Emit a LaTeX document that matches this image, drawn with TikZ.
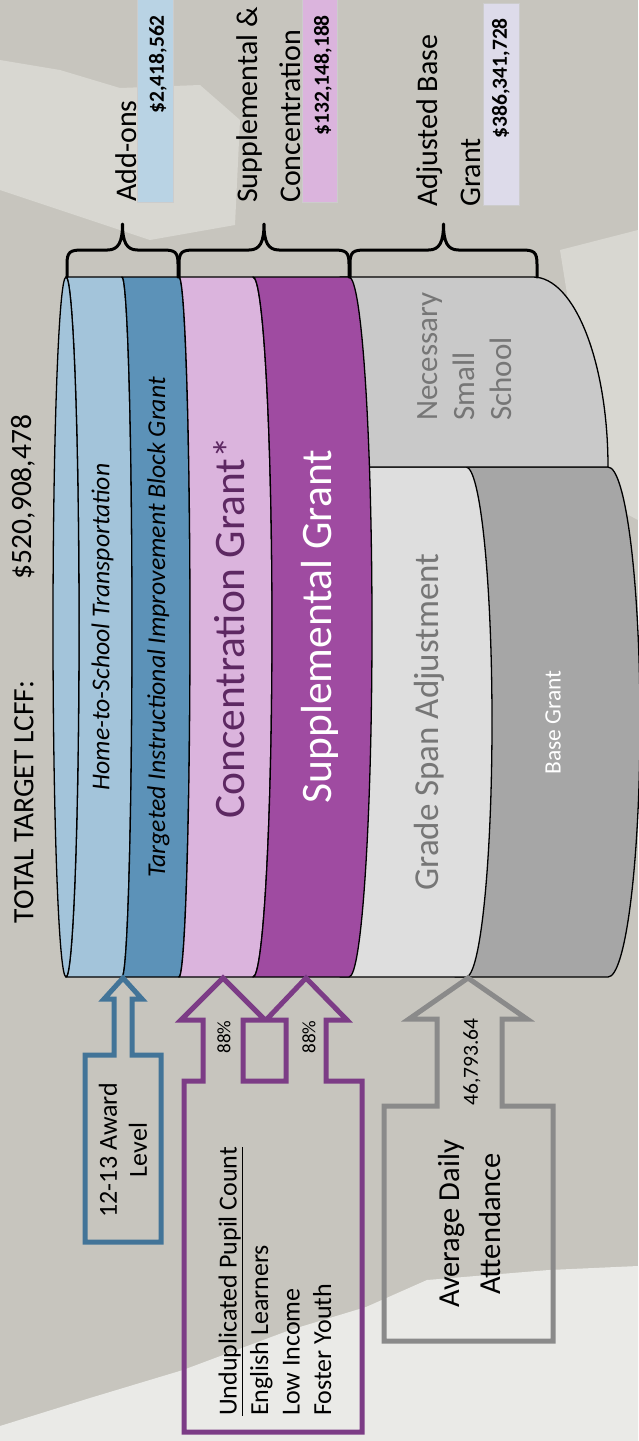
\documentclass[tikz,border=0pt]{standalone}
\usepackage{fontspec}
\setmainfont{Carlito}
\usepackage{tikz}
\definecolor{paper}{RGB}{199,197,190}
\definecolor{paper_light}{RGB}{216,215,209}
\definecolor{paper_white}{RGB}{234,234,231}
\definecolor{addon_light}{RGB}{163,196,218}
\definecolor{addon_dark}{RGB}{92,146,184}
\definecolor{conc_fill}{RGB}{219,180,221}
\definecolor{supp_fill}{RGB}{159,75,161}
\definecolor{conc_text}{RGB}{93,40,98}
\definecolor{grade_fill}{RGB}{222,222,222}
\definecolor{nss_fill}{RGB}{201,201,201}
\definecolor{base_fill}{RGB}{166,166,166}
\definecolor{gray_text}{RGB}{118,118,118}
\definecolor{award_line}{RGB}{66,116,152}
\definecolor{pupil_line}{RGB}{124,60,134}
\definecolor{ada_line}{RGB}{138,138,138}
\definecolor{addon_box}{RGB}{185,211,228}
\definecolor{base_box}{RGB}{221,219,234}

\begin{document}
\begin{tikzpicture}[x=1pt, y=1pt,
		cyl/.style={draw=black, line width=1.3pt, line join=round},
		lbl/.style={rotate=90, inner sep=0pt},
		curly/.style={line width=3pt, line cap=round, line join=round},
		callout/.style={line width=5pt, line join=miter},
		valbox/.style={draw=black!20, line width=0.6pt},
	]
	\useasboundingbox (0,0) rectangle (638,-1441);

	% background
	\fill[paper] (0,0) rectangle (638,-1441);
	\fill[paper_light] (0,-60) -- (60,-70) -- (120,-88) -- (200,-85) -- (240,-120) -- (235,-225) -- (150,-240) -- (60,-210) -- (0,-190) -- cycle;
	\fill[paper_light] (560,-250) -- (638,-230) -- (638,-520) -- (600,-500) -- cycle;
	\fill[paper_white] (0,-1441) -- (0,-1426) -- (90,-1398) -- (183,-1370) -- (290,-1330) -- (366,-1307) -- (427,-1280) -- (549,-1270) -- (638,-1266) -- (638,-1441) -- cycle;

	% cylinder, back to front
	\filldraw[cyl, fill=base_fill] (455,-467) -- (608,-467) arc[start angle=90, end angle=-90, x radius=32, y radius=255] -- (455,-977) -- cycle;
	\filldraw[cyl, fill=grade_fill] (340,-467) -- (466,-467) arc[start angle=90, end angle=-90, x radius=26, y radius=255] -- (340,-977) -- cycle;
	\filldraw[cyl, fill=nss_fill] (340,-277) -- (533,-277) arc[start angle=90, end angle=0, x radius=75, y radius=190] -- (340,-467) -- cycle;
	\foreach \cl/\rl/\cr/\rr/\col in {66/13/122/10/addon_light, 122/10/179/11/addon_dark, 179/11/253/19/conc_fill, 253/19/349/23/supp_fill}
		\filldraw[cyl, fill=\col] (\cl,-277) arc[start angle=90, end angle=-90, x radius=\rl, y radius=350] -- (\cr,-977) arc[start angle=-90, end angle=90, x radius=\rr, y radius=350] -- cycle;
	\filldraw[cyl, fill=addon_light] (66,-627) ellipse[x radius=13, y radius=350];

	% braces
	\foreach \xl/\xm/\xr in {67/122.5/178, 179/264/349, 350/443.5/537}
		\draw[curly] (\xl,-277) -- (\xl,-264) .. controls (\xl,-252) and (\xl+3,-250) .. (\xl+15,-250) -- (\xm-15,-250) .. controls (\xm-4,-250) and (\xm,-242) .. (\xm,-224) .. controls (\xm,-242) and (\xm+4,-250) .. (\xm+15,-250) -- (\xr-15,-250) .. controls (\xr-3,-250) and (\xr,-252) .. (\xr,-264) -- (\xr,-277);

	% totals
	\node[lbl, font=\fontsize{29.5}{35}\selectfont] (title) at (24,-802) {TOTAL TARGET LCFF:};
	\node[lbl, font=\fontsize{29.5}{35}\selectfont] (total) at (23,-497) {\$520,908,478};

	\node[lbl, anchor=west, font=\fontsize{30}{36}\selectfont] (addons) at (126,-202) {Add-ons};
	\node[lbl, anchor=west, align=left, font=\fontsize{30}{43}\selectfont] (suppconc) at (268.5,-203) {Supplemental \&\\Concentration};
	\node[lbl, anchor=west, align=left, font=\fontsize{30}{43}\selectfont] (adjbase) at (448.5,-207) {Adjusted Base\\Grant};

	\filldraw[valbox, fill=addon_box] (137,5) rectangle (173,-202);
	\filldraw[valbox, fill=conc_fill] (302,5) rectangle (337,-202);
	\filldraw[valbox, fill=base_box] (483,-3) rectangle (519,-205);
	\node[lbl, anchor=east, font=\bfseries\fontsize{21.5}{26}\selectfont] (addonsval) at (158,-15) {\$2,418,562};
	\node[lbl, anchor=east, font=\bfseries\fontsize{21.5}{26}\selectfont] (suppconcval) at (323,-15) {\$132,148,188};
	\node[lbl, anchor=east, font=\bfseries\fontsize{21.5}{26}\selectfont] (adjbaseval) at (501,-18) {\$386,341,728};

	% grant names
	\node[lbl, font=\itshape\fontsize{25.7}{30}\selectfont] (hts) at (102.5,-627) {Home-to-School Transportation};
	\node[lbl, font=\itshape\fontsize{25.7}{30}\selectfont] (tiibg) at (158.5,-627.5) {Targeted Instructional Improvement Block Grant};
	\node[lbl, text=conc_text, font=\fontsize{43.5}{50}\selectfont] (conc) at (229,-628) {Concentration Grant*};
	\node[lbl, text=white, font=\fontsize{43.5}{50}\selectfont] (supp) at (320,-626.5) {Supplemental Grant};
	\node[lbl, anchor=west, align=left, text=gray_text, font=\fontsize{31}{37}\selectfont] (nss) at (465,-421) {Necessary\\Small\\School};
	\node[lbl, text=gray_text, font=\fontsize{35}{40}\selectfont] (gsa) at (429,-722) {Grade Span Adjustment};
	\node[lbl, text=white, font=\fontsize{23.5}{28}\selectfont] (base) at (553,-722.5) {Base Grant};

	% inputs
	\draw[callout, award_line] (123,-978) -- (142,-999) -- (132,-999) -- (132,-1055) -- (161,-1055) -- (161,-1242) -- (85,-1242) -- (85,-1055) -- (114,-1055) -- (114,-999) -- (104,-999) -- cycle;
	\node[lbl, align=center, font=\fontsize{26}{30}\selectfont] (award) at (123,-1150) {12-13 Award\\Level};

	\draw[callout, pupil_line] (223,-978) -- (265,-1020) -- (243,-1020) -- (243,-1081) -- (286,-1081) -- (286,-1020) -- (266,-1020) -- (306,-978) -- (347,-1020) -- (326,-1020) -- (326,-1081) -- (362,-1081) -- (362,-1432) -- (184,-1432) -- (184,-1081) -- (203,-1081) -- (203,-1020) -- (181,-1020) -- cycle;
	\node[lbl, font=\fontsize{19}{23}\selectfont] (pctconc) at (224,-1037) {88\%};
	\node[lbl, font=\fontsize{19}{23}\selectfont] (pctsupp) at (309,-1037) {88\%};
	\node[lbl, anchor=west, align=left, font=\fontsize{26}{31.5}\selectfont] (pupil) at (275,-1416) {\underline{Unduplicated Pupil Count}\\English Learners\\Low Income\\Foster Youth};

	\draw[callout, ada_line] (468,-978) -- (527,-1019) -- (502,-1019) -- (502,-1106) -- (553,-1106) -- (553,-1341) -- (384,-1341) -- (384,-1106) -- (437,-1106) -- (437,-1019) -- (409,-1019) -- cycle;
	\node[lbl, font=\fontsize{21.5}{26}\selectfont] (adaval) at (472,-1062) {46,793.64};
	\node[lbl, align=center, font=\fontsize{30.5}{41}\selectfont] (ada) at (469.5,-1224) {Average Daily\\Attendance};

\end{tikzpicture}
\end{document}
